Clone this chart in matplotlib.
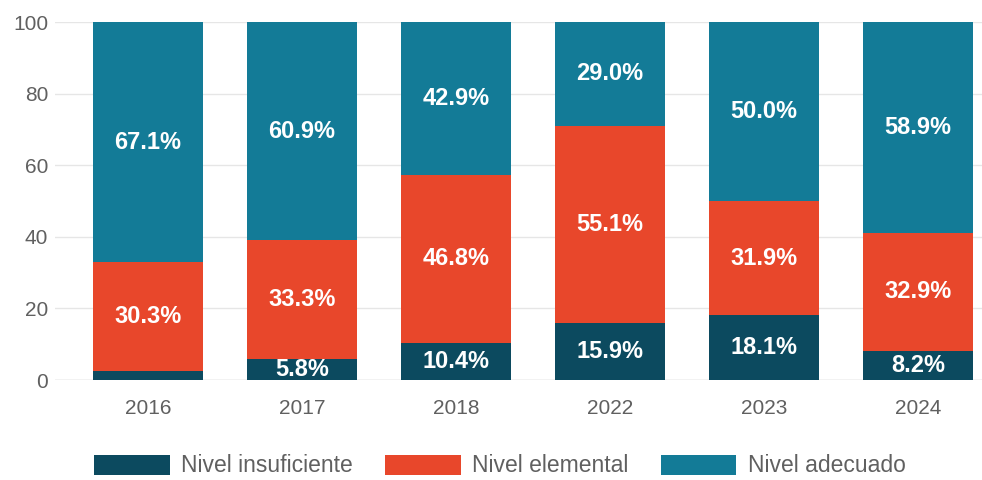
import matplotlib.pyplot as plt
import numpy as np

plt.rcParams["font.family"] = ["Liberation Sans", "DejaVu Sans"]

years = ["2016", "2017", "2018", "2022", "2023", "2024"]
insuficiente = [2.6, 5.8, 10.4, 15.9, 18.1, 8.2]
elemental = [30.3, 33.3, 46.8, 55.1, 31.9, 32.9]
adecuado = [67.1, 60.9, 42.9, 29.0, 50.0, 58.9]
series_names = ["Nivel insuficiente", "Nivel elemental", "Nivel adecuado"]
colors = ["#0c4a5f", "#e8472b", "#137b97"]

fig = plt.figure(figsize=(9.82, 4.8), dpi=100)
ax = fig.add_axes([55 / 982, 100 / 480, 927 / 982, 358 / 480])

x = np.arange(len(years))
bottom = np.zeros(len(years))
for vals, name, col in zip([insuficiente, elemental, adecuado], series_names, colors):
    vals = np.array(vals)
    ax.bar(x, vals, 0.714, bottom=bottom, color=col, label=name, zorder=2)
    # labels centred in each segment, skip the tiny ones
    for xi, b, v in zip(x, bottom, vals):
        if v >= 4:
            ax.text(xi, b + v / 2, f"{v:.1f}%", ha="center", va="center",
                    color="white", fontsize=17, fontweight="bold", zorder=3)
    bottom += vals

ax.set_xlim(-0.604, 5.415)
ax.set_ylim(0, 100)
ax.set_yticks([0, 20, 40, 60, 80, 100])
ax.set_xticks(x)
ax.set_xticklabels(years)
ax.grid(axis="y", color="#e6e6e6", linewidth=1, zorder=0)
ax.axhline(0, color="#cccccc", linewidth=1, zorder=1)
for s in ax.spines.values():
    s.set_visible(False)
ax.tick_params(length=0, labelsize=15, colors="#606060")
ax.tick_params(axis="x", pad=14)
ax.tick_params(axis="y", pad=5)

fig.legend(loc="center", bbox_to_anchor=(500 / 982, 1 - 466 / 480), ncol=3,
           frameon=False, fontsize=16.5, labelcolor="#606060",
           handlelength=3.3, handleheight=0.95, handletextpad=0.5,
           columnspacing=1.4)

fig.savefig("out.png", dpi=100)
